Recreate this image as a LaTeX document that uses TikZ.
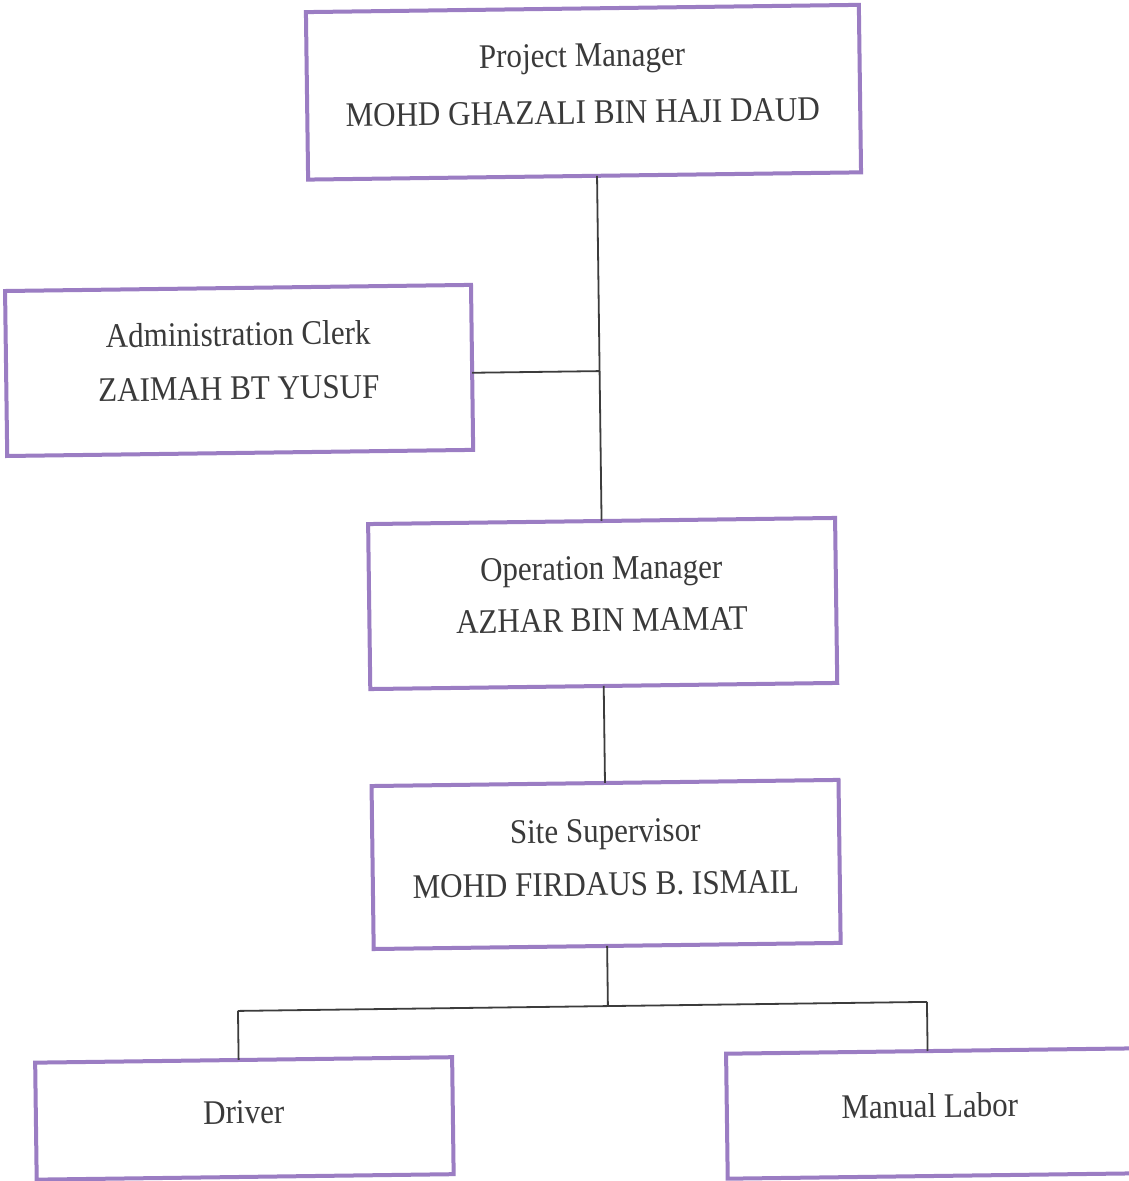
\documentclass[tikz,border=0pt]{standalone}
\usepackage{fontspec}
\setmainfont[FakeStretch=0.9]{Liberation Serif}
\definecolor{boxpurple}{RGB}{155,125,195}
\definecolor{txtgray}{RGB}{58,58,58}
\definecolor{linegray}{RGB}{60,60,60}
\tikzset{
  orgbox/.style={draw=boxpurple, line width=4pt, rectangle, inner sep=0pt, outer sep=0pt, fill=none},
  lbl/.style={anchor=base, inner sep=0pt, text=txtgray, font=\fontsize{34.5}{40}\selectfont},
  conn/.style={draw=linegray, line width=1.8pt}
}
\begin{document}
\begin{tikzpicture}[x=1pt,y=-1pt]
\useasboundingbox (0,0) rectangle (1128,1181);
\fill[white] (0,0) rectangle (1128,1181);
\begin{scope}[rotate around={0.75:(564,590)}, transform shape]
  % boxes
  \node[orgbox, minimum width=553pt, minimum height=167.5pt] (pm)  at (590,92.5) {};
  \node[orgbox, minimum width=466pt, minimum height=165pt]   (adm) at (242,366.2) {};
  \node[orgbox, minimum width=467pt, minimum height=165pt]   (om)  at (602.5,604) {};
  \node[orgbox, minimum width=467pt, minimum height=163pt]   (ss)  at (602.5,865) {};
  \node[orgbox, minimum width=417pt, minimum height=117pt]   (drv) at (237.5,1114.2) {};
  \node[orgbox, minimum width=425pt, minimum height=125pt]   (man) at (932.5,1118.3) {};
  % texts
  \node[lbl] (pm1)  at (589,67)    {Project Manager};
  \node[lbl] (pm2)  at (589,124)   {MOHD GHAZALI BIN HAJI DAUD};
  \node[lbl] (adm1) at (241.5,341.5) {Administration Clerk};
  \node[lbl] (adm2) at (241.5,395.5) {ZAIMAH BT YUSUF};
  \node[lbl] (om1)  at (601.5,580) {Operation Manager};
  \node[lbl] (om2)  at (601.5,632) {AZHAR BIN MAMAT};
  \node[lbl] (ss1)  at (602,843)   {Site Supervisor};
  \node[lbl] (ss2)  at (602,896)   {MOHD FIRDAUS B. ISMAIL};
  \node[lbl] (drv1) at (237,1119.3) {Driver};
  \node[lbl] (man1) at (923,1122.2) {Manual Labor};
  % connectors
  \coordinate (ja) at (602.5,371.6);
  \coordinate (bl) at (232.5,1006.7);
  \coordinate (br) at (921.6,1006.7);
  \draw[conn] (pm.south -| om.north) -- (om.north);
  \draw[conn] (adm.east |- ja) -- (ja);
  \draw[conn] (om.south) -- (ss.north);
  \draw[conn] (ss.south) -- (ss.south |- bl);
  \draw[conn] (bl) -- (br);
  \draw[conn] (bl) -- (bl |- drv.north);
  \draw[conn] (br) -- (br |- man.north);
\end{scope}
\end{tikzpicture}
\end{document}
